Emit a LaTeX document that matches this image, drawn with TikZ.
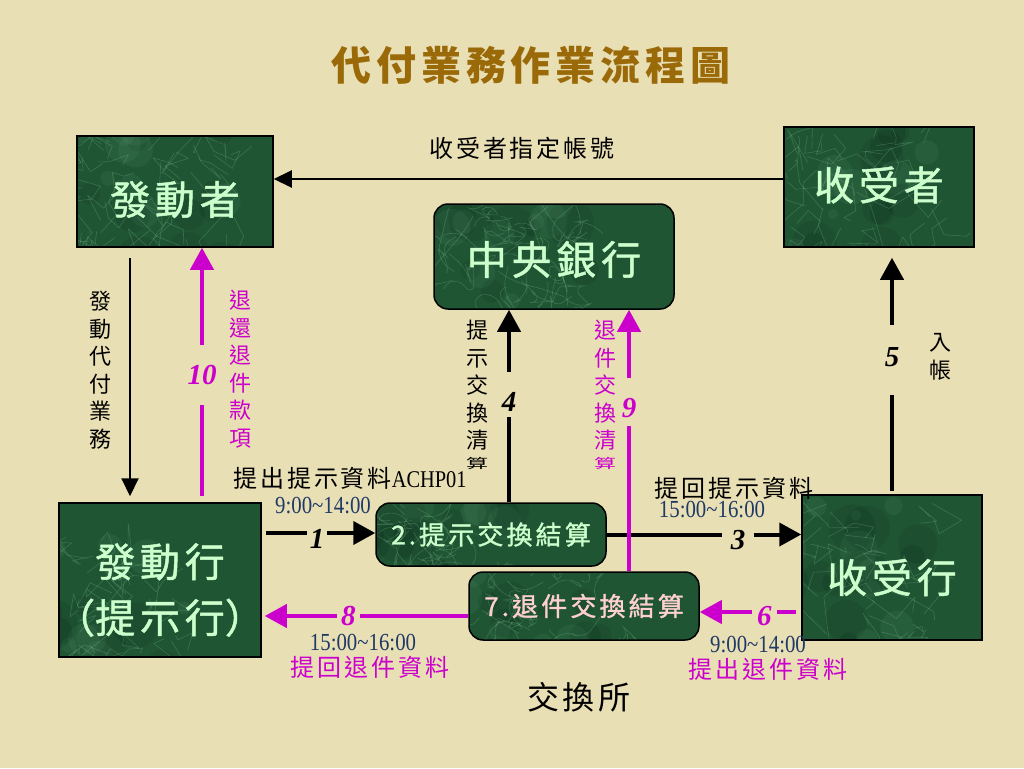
\documentclass[tikz,border=0pt]{standalone}
\usepackage{fontspec}
\usepackage{graphicx}
\usetikzlibrary{arrows.meta,calc}
\newfontfamily\cjk{Noto Sans CJK TC}[LetterSpace=12]
\newfontfamily\cjkb{Noto Sans CJK TC}[LetterSpace=12, FakeBold=1.2]
\newfontfamily\cjkn{Noto Sans CJK TC}
\newfontfamily\tnr{Liberation Serif}
\newfontfamily\tnrc{Liberation Serif}[FakeStretch=0.85]
\definecolor{bgc}{HTML}{E9DFB5}
\definecolor{boxg}{HTML}{1F5533}
\definecolor{marblec}{HTML}{9FE0B4}
\definecolor{boxtxt}{HTML}{CCFFCC}
\definecolor{pinktxt}{HTML}{FFD0D0}
\definecolor{mag}{HTML}{CC00CC}
\definecolor{navy}{HTML}{1F3A66}
\definecolor{titlec}{HTML}{9A6A08}
\newcommand{\dnx}[2]{\raisebox{-#1}[\height][\depth]{#2}}
\tikzset{
  marble/.style={path picture={
    \begin{scope}[shift={(path picture bounding box.center)}]
      \foreach \k in {1,...,16}{
        \fill[black, opacity=0.08] (rand*120pt, rand*80pt) circle[radius={8+rnd*16}];
      }
      \foreach \k in {1,...,16}{
        \fill[marblec, opacity=0.06] (rand*120pt, rand*80pt) circle[radius={5+rnd*14}];
      }
      \foreach \k in {1,...,70}{
        \draw[draw=marblec, line width=0.6pt, opacity=0.22, line join=round]
          (rand*125pt, rand*80pt) -- ++(rand*30pt, rand*30pt) -- ++(rand*25pt, rand*25pt) -- ++(rand*20pt,rand*20pt);
      }
    \end{scope}}},
  box/.style={draw=black, line width=1.5pt, fill=boxg, marble, text=boxtxt,
    font=\cjkb\fontsize{40}{56}\selectfont, align=center, inner sep=0pt},
  rbox/.style={box, rounded corners=14pt},
  thinarr/.style={line width=2pt, -{Triangle[length=18pt,width=17pt]}},
  thickarr/.style={line width=4pt, -{Triangle[length=22pt,width=23pt]}},
  magarr/.style={thickarr, draw=mag},
  num/.style={font=\tnr\bfseries\itshape\fontsize{29}{29}\selectfont, fill=bgc, inner sep=0pt},
  lbl/.style={font=\cjk\fontsize{24}{28}\selectfont},
  vlbl/.style={font=\cjkn\fontsize{22}{27.5}\selectfont, align=center},
  tm/.style={font=\tnrc\fontsize{24.5}{25}\selectfont, text=navy}
}
\begin{document}
\begin{tikzpicture}[x=1pt,y=-1pt]
\pgfmathsetseed{17}
\fill[bgc] (0,0) rectangle (1024,768);
\useasboundingbox (0,0) rectangle (1024,768);

% title
\node[font=\cjk\bfseries\fontsize{40}{40}\selectfont, text=titlec] (title) at (531,65) {代付業務作業流程圖};

% boxes
\node[box, minimum width=196pt, minimum height=111pt] (fq) at (175,191.5) {\dnx{8pt}{發動者}};
\node[box, minimum width=190pt, minimum height=120pt] (sz) at (879,187) {\dnx{-2pt}{收受者}};
\node[rbox, minimum width=240pt, minimum height=105pt] (cb) at (554,256.5) {\dnx{3pt}{中央銀行}};
\node[box, minimum width=202pt, minimum height=154pt] (fh) at (160,580)
  {\dnx{10pt}{發動行}\\\dnx{10pt}{\makebox[30pt][r]{（}提示行\makebox[30pt][l]{）}}};
\node[box, minimum width=180pt, minimum height=145pt] (sh) at (892,567.5) {\dnx{10pt}{收受行}};
\node[rbox, minimum width=230pt, minimum height=63pt, font=\cjkb\fontsize{26}{26}\selectfont] (b2) at (491,534.5) {2.提示交換結算};
\node[rbox, minimum width=230pt, minimum height=68pt, font=\cjkb\fontsize{26}{26}\selectfont, text=pinktxt] (b7) at (584,606) {7.退件交換結算};

% 收受者 -> 發動者
\coordinate (c0) at ([yshift=8pt]sz.west);
\draw[thinarr] (c0) -- (c0 -| fq.east);
\node[lbl] (l0) at (522,148) {收受者指定帳號};

% 發動者 -> 發動行
\coordinate (c1s) at ([xshift=-45pt]fq.south);
\draw[thinarr, shorten <=10pt, shorten >=6pt] (c1s) -- (c1s |- fh.north);
\node[vlbl] (v1) at (100,370) {發\\動\\代\\付\\業\\務};

% 10
\coordinate (c10) at ([xshift=42pt]fh.north);
\draw[magarr, shorten <=6pt] (c10) -- node[num, text=mag, minimum height=60pt]{10} (c10 |- fq.south);
\node[vlbl, text=mag] (v10) at (240,369) {退\\還\\退\\件\\款\\項};

% 1
\coordinate (c1) at ([xshift=4pt,yshift=47pt]fh.east);
\draw[thickarr] (c1) -- node[num, pos=0.47, minimum width=20pt]{\dnx{6pt}{1}} (c1 -| b2.west);
\node[lbl] (l1) at (350,478) {提出提示資料{\tnrc ACHP01}};
\node[tm] (t1) at (323,506) {9:00\textasciitilde14:00};

% 3
\draw[thickarr] (b2.east) -- node[num, pos=0.675, minimum width=32pt]{\dnx{6pt}{3}} (b2.east -| sh.west);
\node[lbl] (l3) at (734,488) {提回提示資料};
\node[tm] (t3) at (712,510) {15:00\textasciitilde16:00};

% 4
\coordinate (c4) at ([xshift=18pt]b2.north);
\draw[thickarr] (c4) -- node[num, pos=0.56, minimum height=45pt]{\dnx{8pt}{4}} (c4 |- cb.south);
\node[vlbl] (v4) at (477,395) {提\\示\\交\\換\\清\\[-8pt]\scalebox{1}[0.6]{算}};

% 9
\coordinate (c9) at ([xshift=45pt]b7.north);
\draw[magarr] (c9) -- node[num, text=mag, pos=0.646, minimum height=48pt]{\dnx{6pt}{9}} (c9 |- cb.south);
\node[vlbl, text=mag] (v9) at (605,395) {退\\件\\交\\換\\清\\[-8pt]\scalebox{1}[0.6]{算}};

% 5
\draw[thickarr, shorten <=3pt, shorten >=10pt] (sh.north) -- node[num, pos=0.545, minimum height=70pt]{\dnx{-3pt}{5}} (sh.north |- sz.south);
\node[vlbl] (v5) at (940,357) {入\\帳};

% 6
\coordinate (c6) at ([xshift=-5pt,yshift=-44.5pt]sh.west);
\draw[magarr] (c6) -- node[num, text=mag, pos=0.33, minimum width=25pt]{\dnx{4pt}{6}} (c6 -| b7.east);
\node[tm] (t6) at (758,645) {9:00\textasciitilde14:00};
\node[lbl, text=mag] (l6) at (768,669) {提出退件資料};

% 8
\coordinate (c8) at ([yshift=-10pt]b7.west);
\draw[magarr, shorten >=3pt] (c8) -- node[num, text=mag, pos=0.58, minimum width=23pt]{8} (c8 -| fh.east);
\node[tm] (t8) at (363,643) {15:00\textasciitilde16:00};
\node[lbl, text=mag] (l8) at (370,667) {提回退件資料};

% exchange label
\node[font=\cjk\fontsize{32}{32}\selectfont] (jh) at (579,697) {交換所};
\end{tikzpicture}
\end{document}
